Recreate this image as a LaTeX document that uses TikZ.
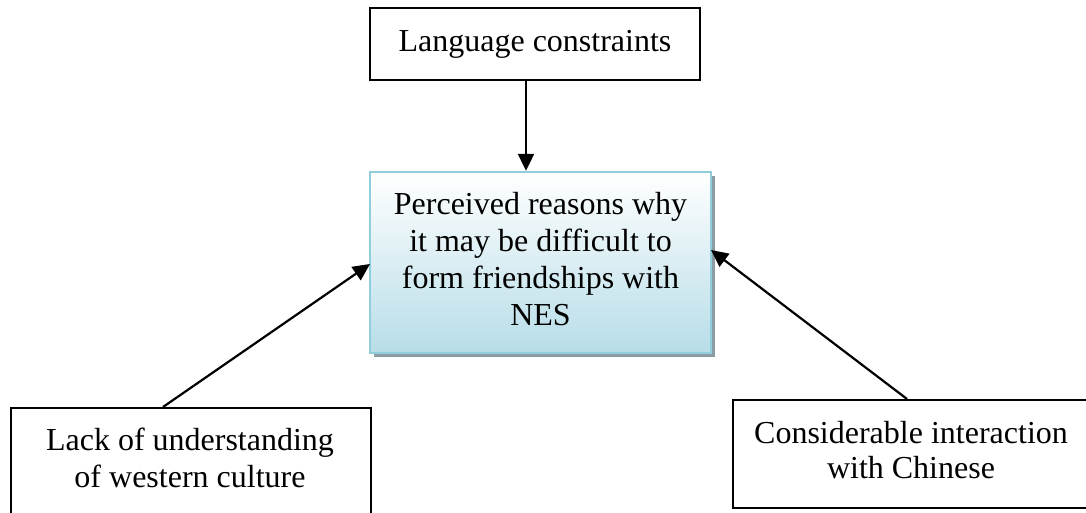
\documentclass[tikz,border=0pt]{standalone}
\usepackage{fontspec}
\setmainfont{Liberation Serif}
\usetikzlibrary{arrows.meta}
\definecolor{boxedge}{HTML}{92CDDC}
\definecolor{boxfill}{HTML}{B7DDE8}
\definecolor{shadowgray}{HTML}{8C9CA3}
\tikzset{
  plainbox/.style={draw=black, line width=2pt, align=center, inner sep=0pt,
    font=\fontsize{32}{37}\selectfont},
  focusbox/.style={draw=boxedge, line width=2.4pt, align=center, inner sep=0pt,
    top color=white, bottom color=boxfill},
  boxtext/.style={align=center, font=\fontsize{32}{37}\selectfont},
  link/.style={line width=2.2pt, -{Triangle[length=17pt,width=16pt]}},
}
\begin{document}
\begin{tikzpicture}[x=1pt,y=-1pt]
  \useasboundingbox (0,0) rectangle (1086,513);
  \clip (0,0) rectangle (1086,513);
  \fill[white] (0,0) rectangle (1086,513);

  % top box
  \node[plainbox, minimum width=330pt, minimum height=72pt] (lang) at (535,44)
    {Language constraints};

  % central box with its drop shadow
  \fill[shadowgray] (374,176) rectangle (715,357);
  \node[focusbox, minimum width=341pt, minimum height=181pt] (main) at (540.5,262.5) {};
  \node[boxtext] (maintext) at (540.5,259)
    {Perceived reasons why\\it may be difficult to\\form friendships with\\NES};

  % bottom boxes, running past the lower and right edges
  \node[plainbox, minimum width=360pt, minimum height=130pt, anchor=north west]
    (culture) at (10,407) {};
  \node[boxtext] (culturetext) at (190,458)
    {Lack of understanding\\of western culture};
  \node[plainbox, minimum width=358pt, minimum height=108pt, anchor=north west]
    (chinese) at (732,399) {};
  \node[boxtext, font=\fontsize{32}{35}\selectfont] (chinesetext) at (911,450)
    {Considerable interaction\\with Chinese};

  % connectors
  \coordinate (c1) at (163,407);
  \coordinate (c2) at (907,399);
  \draw[link] (lang.south -| 526,0) -- (main.north -| 526,0);
  \draw[link] (c1) -- (370,264);
  \draw[link] (c2) -- (711,250);
\end{tikzpicture}
\end{document}
